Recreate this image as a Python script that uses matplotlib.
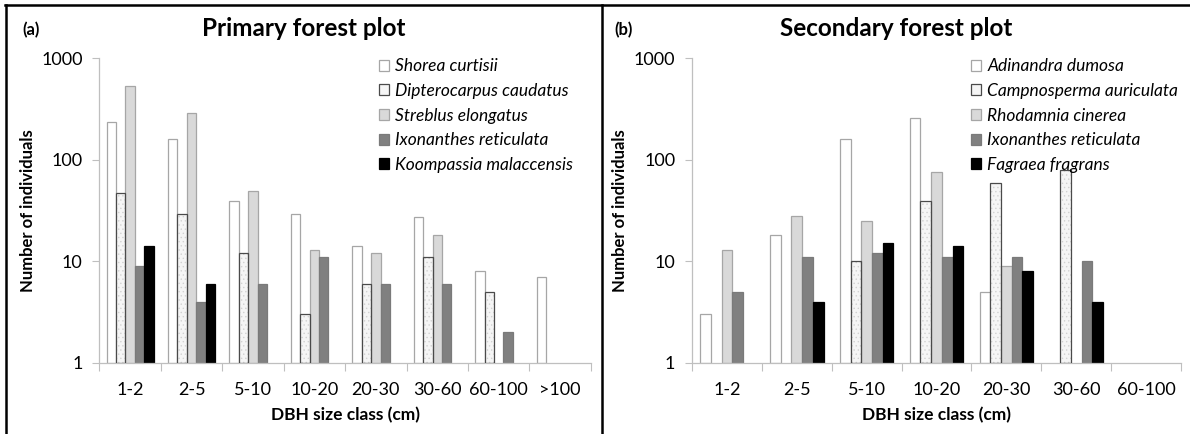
import numpy as np
import matplotlib
matplotlib.use("Agg")
import matplotlib.pyplot as plt
from matplotlib.lines import Line2D
from matplotlib.patches import Patch

plt.rcParams['font.family'] = ['Lato', 'DejaVu Sans']
plt.rcParams['hatch.linewidth'] = 0.5

nan = np.nan

# primary forest plot
classes_a = ['1-2', '2-5', '5-10', '10-20', '20-30', '30-60', '60-100', '>100']
species_a = ['Shorea curtisii', 'Dipterocarpus caudatus', 'Streblus elongatus',
             'Ixonanthes reticulata', 'Koompassia malaccensis']
shorea = [235, 160, 39, 29, 14, 27, 8, 7]
dipterocarpus = [47, 29, 12, 3, 6, 11, 5, nan]
streblus = [530, 290, 49, 13, 12, 18, nan, nan]
ixonanthes_a = [9, 4, 6, 11, 6, 6, 2, nan]
koompassia = [14, 6, nan, nan, nan, nan, nan, nan]

# secondary forest plot
classes_b = ['1-2', '2-5', '5-10', '10-20', '20-30', '30-60', '60-100']
species_b = ['Adinandra dumosa', 'Campnosperma auriculata', 'Rhodamnia cinerea',
             'Ixonanthes reticulata', 'Fagraea fragrans']
adinandra = [3, 18, 160, 257, 5, nan, nan]
campnosperma = [nan, nan, 10, 39, 59, 79, nan]
rhodamnia = [13, 28, 25, 76, 9, nan, nan]
ixonanthes_b = [5, 11, 12, 11, 11, 10, nan]
fagraea = [nan, 4, 15, 14, 8, 4, nan]

# (face, edge, hatch) for the five series
styles = [('white', '#a6a6a6', None),
          ('#f5f5f5', '#4a4a4a', '....'),
          ('#d9d9d9', '#a6a6a6', None),
          ('#808080', '#7a7a7a', None),
          ('black', 'black', None)]

grey = '#bfbfbf'
base = 0.99


def draw_panel(ax, classes, series, names, leg_x):
    n = len(classes)
    x = np.arange(n)
    w = 0.153
    handles = []
    for i, (vals, (fc, ec, hatch)) in enumerate(zip(series, styles)):
        pos = x + (i - 2) * w
        vals = np.array(vals, dtype=float)
        h = vals - base
        if hatch:
            # stipple first, outline on top
            ax.bar(pos, h, w, bottom=base, color=fc, edgecolor='#d2d2d2',
                   hatch=hatch, linewidth=0, zorder=2)
            ax.bar(pos, h, w, bottom=base, fill=False, edgecolor=ec,
                   linewidth=0.9, zorder=3)
            handles.append(Patch(facecolor=fc, edgecolor=ec, linewidth=0.9))
        else:
            ax.bar(pos, h, w, bottom=base, color=fc, edgecolor=ec,
                   linewidth=0.9, zorder=2)
            handles.append(Patch(facecolor=fc, edgecolor=ec, linewidth=0.9))

    ax.set_yscale('log')
    ax.set_ylim(1, 1000)
    ax.set_xlim(-0.5, n - 0.5)
    ax.set_yticks([1, 10, 100, 1000])
    ax.set_yticklabels(['1', '10', '100', '1000'])
    ax.yaxis.set_minor_locator(matplotlib.ticker.NullLocator())

    # category labels between the boundary ticks
    ax.set_xticks(np.arange(n + 1) - 0.5)
    ax.set_xticklabels([])
    ax.set_xticks(x, minor=True)
    ax.set_xticklabels(classes, minor=True, fontsize=13)
    ax.tick_params(axis='x', which='minor', length=0, pad=14)
    ax.tick_params(axis='x', which='major', length=6, color=grey, width=0.8)
    ax.tick_params(axis='y', length=5, color=grey, width=0.8, labelsize=13, pad=7)

    for s in ['top', 'right']:
        ax.spines[s].set_visible(False)
    for s in ['left', 'bottom']:
        ax.spines[s].set_color(grey)
        ax.spines[s].set_linewidth(0.9)

    ax.set_xlabel('DBH size class (cm)', fontsize=12.5, fontweight='bold', labelpad=6)
    ax.set_ylabel('Number of individuals', fontsize=12, fontweight='bold', labelpad=4)

    ax.legend(handles, names, loc='upper left', bbox_to_anchor=(leg_x, 1.0),
              frameon=False, handlelength=0.6, handleheight=0.6,
              handletextpad=0.35, labelspacing=0.5, borderpad=0,
              borderaxespad=0, prop={'style': 'italic', 'size': 12.5})


fig = plt.figure(figsize=(11.9, 4.34), dpi=100)
ax1 = fig.add_axes([0.0835, 0.164, 0.413, 0.702])
ax2 = fig.add_axes([0.5815, 0.164, 0.411, 0.702])

draw_panel(ax1, classes_a, [shorea, dipterocarpus, streblus, ixonanthes_a, koompassia],
           species_a, 0.568)
draw_panel(ax2, classes_b, [adinandra, campnosperma, rhodamnia, ixonanthes_b, fagraea],
           species_b, 0.57)

fig.text(304 / 1190, 0.935, 'Primary forest plot', fontsize=17.5,
         fontweight='bold', ha='center', va='center')
fig.text(896 / 1190, 0.935, 'Secondary forest plot', fontsize=17.5,
         fontweight='bold', ha='center', va='center')
fig.text(0.019, 0.93, '(a)', fontsize=12, fontweight='bold', va='center')
fig.text(0.516, 0.93, '(b)', fontsize=12, fontweight='bold', va='center')

# frame around the two panels
fig.add_artist(Line2D([0.004, 1], [0.9885, 0.9885], color='black', lw=1.8))
fig.add_artist(Line2D([0.005, 0.005], [0, 0.9885], color='black', lw=1.8))
fig.add_artist(Line2D([0.506, 0.506], [0, 0.9885], color='black', lw=1.8))

fig.savefig('out.png', dpi=100)
